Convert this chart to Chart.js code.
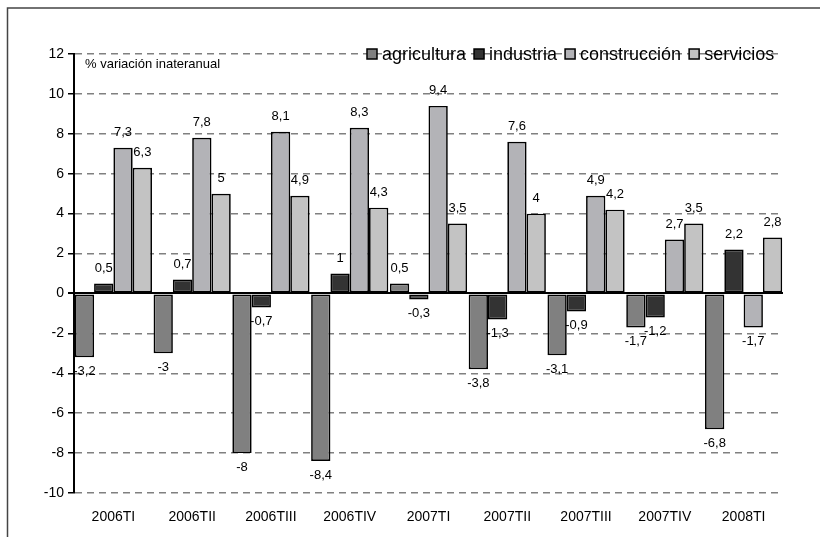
<!DOCTYPE html>
<html>
<head>
<meta charset="utf-8">
<script src="https://cdn.jsdelivr.net/npm/chart.js@4/dist/chart.umd.min.js"></script>
<style>
  body { margin: 0; background: #fff; }
  #wrap { position: relative; width: 820px; height: 537px; }
</style>
</head>
<body>
<div id="wrap"><canvas id="myChart"></canvas></div>
<script>
const trimestres = ['2006TI', '2006TII', '2006TIII', '2006TIV', '2007TI', '2007TII', '2007TIII', '2007TIV', '2008TI']
const agricultura = [-3.2, -3, -8, -8.4, 0.5, -3.8, -3.1, -1.7, -6.8]
const industria = [0.5, 0.7, -0.7, 1, -0.3, -1.3, -0.9, -1.2, 2.2]
const construccion = [7.3, 7.8, 8.1, 8.3, 9.4, 7.6, 4.9, 2.7, -1.7]
const servicios = [6.3, 5, 4.9, 4.3, 3.5, 4, 4.2, 3.5, 2.8]
const series_names = ['agricultura', 'industria', 'construcción', 'servicios']
const colors = ['#808080', '#333333', '#b3b3b7', '#c3c3c3']
const y_title = '% variación inateranual'

const FONT = '"Liberation Sans", Arial, sans-serif'

function make_set(i, values){
    return {
        label: series_names[i],
        data: values,
        backgroundColor: colors[i],
        borderColor: '#000',
        borderWidth: 1.7,
        borderSkipped: false,
        categoryPercentage: 0.98,
        barPercentage: 1
    }
}

// frame, value labels, title and legend
const extras = {
    id: 'extras',
    beforeDraw(chart){
        const c = chart.ctx
        c.save()
        c.strokeStyle = '#444'
        c.lineWidth = 1.5
        c.beginPath()
        c.moveTo(7.5, 537)
        c.lineTo(7.5, 8)
        c.lineTo(820, 8)
        c.stroke()
        c.restore()
    },
    afterDatasetsDraw(chart){
        const c = chart.ctx
        c.save()
        c.font = '13px ' + FONT
        c.fillStyle = '#000'
        c.textAlign = 'center'
        c.textBaseline = 'middle'
        chart.data.datasets.forEach((ds, i) => {
            chart.getDatasetMeta(i).data.forEach((bar, j) => {
                const v = ds.data[j]
                const txt = String(v).replace('.', ',')
                if (v >= 0) c.fillText(txt, bar.x, bar.y - 15)
                else c.fillText(txt, bar.x, bar.y + 14)
            })
        })
        // y title
        c.textAlign = 'left'
        c.fillText(y_title, 85, 64)
        // legend
        c.font = '18px ' + FONT
        let x = 367
        const y = 54
        chart.data.datasets.forEach((ds, i) => {
            c.fillStyle = colors[i]
            c.fillRect(x, y - 5, 10, 10)
            c.strokeStyle = '#000'
            c.lineWidth = 1.5
            c.strokeRect(x, y - 5, 10, 10)
            c.fillStyle = '#000'
            c.fillText(ds.label, x + 15, y + 1)
            x += 15 + c.measureText(ds.label).width + 8
        })
        c.restore()
    }
}

const ctx = document.getElementById('myChart').getContext('2d')
const myChart = new Chart(ctx, {
    type: 'bar',
    data: {
        labels: trimestres,
        datasets: [
            make_set(0, agricultura),
            make_set(1, industria),
            make_set(2, construccion),
            make_set(3, servicios)
        ]
    },
    options: {
        responsive: true,
        maintainAspectRatio: false,
        animation: false,
        layout: { padding: { top: 54, right: 37, left: 0, bottom: 0 } },
        plugins: { legend: { display: false }, tooltip: { enabled: false } },
        scales: {
            x: {
                grid: { display: false },
                border: { display: false },
                ticks: { color: '#000', font: { family: FONT, size: 14 }, padding: 8, maxRotation: 0 },
                afterFit: (scale) => { scale.height = 44 }
            },
            y: {
                min: -10,
                max: 12,
                ticks: { stepSize: 2, color: '#000', font: { family: FONT, size: 14 }, padding: 4 },
                grid: {
                    color: (c) => (c.tick && c.tick.value === 0) ? '#000' : '#808080',
                    lineWidth: (c) => (c.tick && c.tick.value === 0) ? 2 : 1.5,
                    tickColor: '#000',
                    tickLength: 6
                },
                border: {
                    display: true,
                    color: '#000',
                    width: 2,
                    dash: (c) => (c.tick && c.tick.value !== 0) ? [7, 5] : []
                },
                afterFit: (scale) => { scale.width = 74 }
            }
        }
    },
    plugins: [extras]
})
</script>
</body>
</html>
